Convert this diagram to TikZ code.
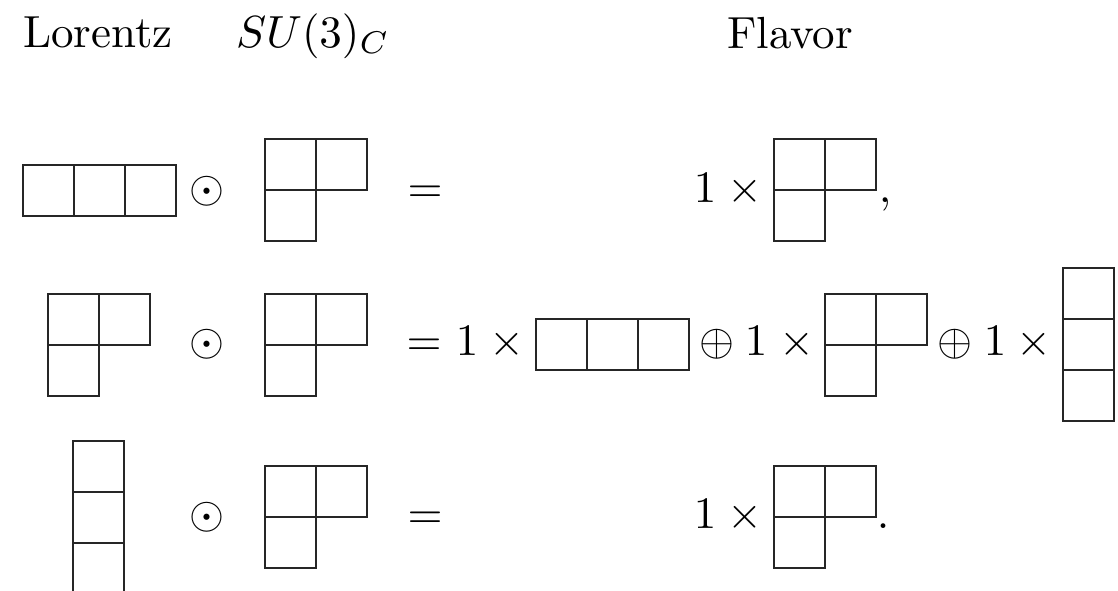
\documentclass[tikz,border=0pt]{standalone}
\newcommand\ycell[2]{\draw[yt] (#1,#2) rectangle ++(51,51);}
\begin{document}
\begin{tikzpicture}[x=0.2222pt,y=-0.2222pt,
  yt/.style={line width=0.34pt, draw=black!85},
  sym/.style={inner sep=0pt, anchor=base, font=\fontsize{10}{12}\selectfont}]
\useasboundingbox (0,0) rectangle (1118,590);
% headers
\node[sym] (hlor) at (98,47) {Lorentz};
\node[sym] (hsu) at (313,47) {$SU(3)_C$};
\node[sym] (hfl) at (790,48) {Flavor};
% ---- row 1
\ycell{23}{165}\ycell{74}{165}\ycell{125}{165}
\ycell{265}{139}\ycell{316}{139}\ycell{265}{190}
\ycell{774}{139}\ycell{825}{139}\ycell{774}{190}
\node[sym] (o1) at (207,202) {$\odot$};
\node[sym] (e1) at (425,202) {$=$};
\node[sym] (n1) at (705,202) {$1$};
\node[sym] (t1) at (745,202) {$\times$};
\node[sym] (c1) at (885,202) {$,$};
% ---- row 2
\ycell{48}{294}\ycell{99}{294}\ycell{48}{345}
\ycell{265}{294}\ycell{316}{294}\ycell{265}{345}
\ycell{536}{319}\ycell{587}{319}\ycell{638}{319}
\ycell{825}{294}\ycell{876}{294}\ycell{825}{345}
\ycell{1063}{268}\ycell{1063}{319}\ycell{1063}{370}
\node[sym] (o2) at (207,355) {$\odot$};
\node[sym] (e2) at (424,355) {$=$};
\node[sym] (n2a) at (467,355) {$1$};
\node[sym] (t2a) at (507,355) {$\times$};
\node[sym] (p2a) at (717,355) {$\oplus$};
\node[sym] (n2b) at (756,355) {$1$};
\node[sym] (t2b) at (797,355) {$\times$};
\node[sym] (p2b) at (955,355) {$\oplus$};
\node[sym] (n2c) at (995,355) {$1$};
\node[sym] (t2c) at (1034,355) {$\times$};
% ---- row 3
\ycell{73}{441}\ycell{73}{492}\ycell{73}{543}
\ycell{265}{466}\ycell{316}{466}\ycell{265}{517}
\ycell{774}{466}\ycell{825}{466}\ycell{774}{517}
\node[sym] (o3) at (207,528) {$\odot$};
\node[sym] (e3) at (425,528) {$=$};
\node[sym] (n3) at (705,528) {$1$};
\node[sym] (t3) at (745,528) {$\times$};
\node[sym] (d3) at (883,528) {$.$};
\end{tikzpicture}
\end{document}
